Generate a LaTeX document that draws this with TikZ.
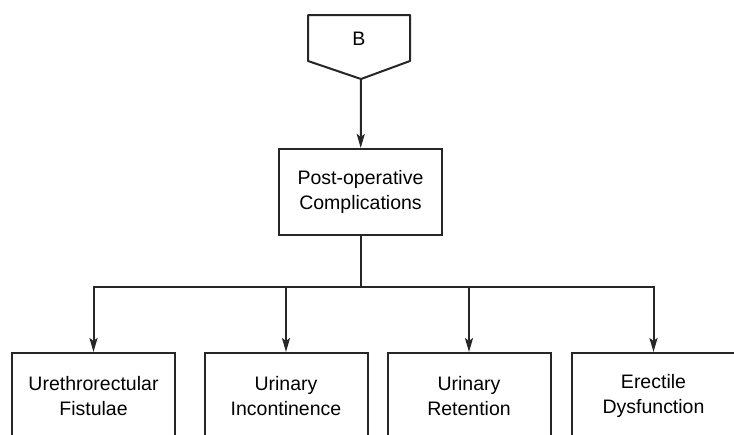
\documentclass[tikz,border=0pt]{standalone}
\usepackage{fontspec}
\setmainfont{Liberation Sans}
\usepackage{tikz}
\usetikzlibrary{arrows.meta,positioning}
\tikzset{
	>={Stealth[length=14pt,width=8pt,inset=3pt]},
	every box/.style={
		draw=black!85,
		line width=2pt,
		minimum width=163pt,
		minimum height=86pt,
		align=center,
		font=\fontsize{19.5}{25}\selectfont
	},
	box/.style={every box},
	link/.style={->,draw=black!85,line width=2pt}
}
\begin{document}
\begin{tikzpicture}[x=1pt,y=-1pt]
	\clip (0,0) rectangle (734,434);
	% off-page connector
	\node [font=\fontsize{19.5}{25}\selectfont] (B) at (359,39) {B};
	\draw [draw=black!85,line width=2pt,line join=round]
		(308,15) -- (410,15) -- (410,61) -- (361,79) coordinate (Btip)
		-- (308,61) -- cycle;
	
	\node [box] (post) at (360.5,192) {Post-operative\\Complications};
	
	\node [box] (u) at (93.5,396) {Urethrorectular\\Fistulae};
	\node [box] (i) at (286,396) {Urinary\\Incontinence};
	\node [box] (r) at (469,396) {Urinary\\Retention};
	\node [box] (e) at (653.5,396) {Erectile\\Dysfunction};
	
	\draw [link] (Btip) -- (post);
	\coordinate (split) at (360.5,287);
	\draw [draw=black!85,line width=2pt] (post) -- (split);
	\foreach \n in {u,i,r,e}
		\draw [link] (split) -| (\n);
\end{tikzpicture}
\end{document}
